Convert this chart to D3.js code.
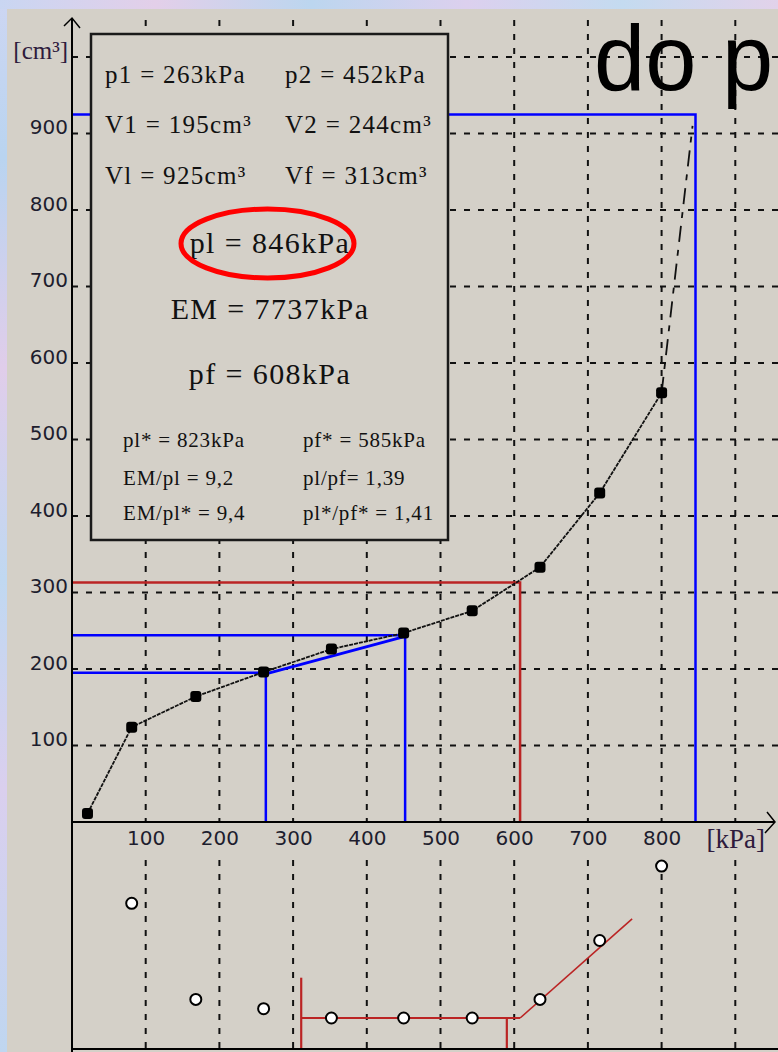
<!DOCTYPE html>
<html>
<head>
<meta charset="utf-8">
<script src="https://cdn.jsdelivr.net/npm/d3@7"></script>
<style>
  html, body { margin: 0; padding: 0; background: #d4d0c8; }
  svg { display: block; }
</style>
</head>
<body>
<svg id="chart" width="778" height="1052"></svg>
<script>
// Pressuremeter test: injected volume against applied pressure
const pressure = [21, 81, 168, 260, 352, 450, 543, 635, 716, 800];     // kPa
const volume   = [11, 124, 164, 196, 226, 247, 276, 333, 430, 561];    // cm³

// extrapolation of the curve towards the limit pressure
const extrapPressure = [800, 842];
const extrapVolume   = [561, 910];

// creep curve (lower panel), one value per pressure step after the first
const creepPressure = [81, 168, 260, 352, 450, 543, 635, 716, 800];
const creepValue    = [47, 16, 13, 10, 10, 10, 16, 35, 59];

// characteristic points
const p1 = 263, V1 = 195;
const p2 = 452, V2 = 244;
const pl = 846, Vl = 925;
const pf = 608, Vf = 313;

// creep fit lines: start of the plateau, plateau level, pf* step, post-creep line
const creepStartP = 311, creepStartTop = 23;
const creepPlateau = 10;
const creepStepP = 590;
const creepLineEnd = [760, 42];

// tick values and labels
const xTickValues = [100, 200, 300, 400, 500, 600, 700, 800, 900];
const xTickLabels = ["100", "200", "300", "400", "500", "600", "700", "800", "[kPa]"];
const yTickValues = [100, 200, 300, 400, 500, 600, 700, 800, 900, 1000];
const yTickLabels = ["100", "200", "300", "400", "500", "600", "700", "800", "900", "[cm³]"];

// result box texts
const resultPairs = [
  ["p1 = 263kPa", "p2 = 452kPa"],
  ["V1 = 195cm³", "V2 = 244cm³"],
  ["Vl = 925cm³", "Vf = 313cm³"]
];
const resultMain = ["pl = 846kPa", "EM = 7737kPa", "pf = 608kPa"];
const resultRatios = [
  ["pl* = 823kPa", "pf* = 585kPa"],
  ["EM/pl = 9,2", "pl/pf= 1,39"],
  ["EM/pl* = 9,4", "pl*/pf* = 1,41"]
];
const caption = "do p";

// ---------------------------------------------------------------
const W = 778, H = 1052;
const svg = d3.select("#chart");

const x = d3.scaleLinear().domain([0, 900]).range([72, 735.3]);
const y = d3.scaleLinear().domain([0, 1000]).range([822, 57]);
const yc = d3.scaleLinear().domain([0, 60]).range([1049, 863]);

const INK = "#111";
const BLUE = "#0000ff";
const RED = "#bb2424";
const PANEL = "#d4d0c8";

// pastel frame behind the panel
const defs = svg.append("defs");
const gTop = defs.append("linearGradient").attr("id", "frameTop");
[["0%", "#c9d6f2"], ["20%", "#e3cfe9"], ["40%", "#bcd6ef"], ["60%", "#dcd0ee"], ["80%", "#c4dbf0"], ["100%", "#e2d2ea"]]
  .forEach(([o, c]) => gTop.append("stop").attr("offset", o).attr("stop-color", c));
const gLeft = defs.append("linearGradient").attr("id", "frameLeft").attr("x1", 0).attr("y1", 0).attr("x2", 0).attr("y2", 1);
[["0%", "#cdd6f2"], ["15%", "#b9d4f0"], ["35%", "#e0cdea"], ["55%", "#c0d8f1"], ["75%", "#dacfee"], ["100%", "#bfd6f0"]]
  .forEach(([o, c]) => gLeft.append("stop").attr("offset", o).attr("stop-color", c));

svg.append("rect").attr("width", W).attr("height", H).attr("fill", "url(#frameLeft)");
svg.append("rect").attr("width", W).attr("height", 9).attr("fill", "url(#frameTop)");
svg.append("rect").attr("x", 7).attr("y", 9).attr("width", W - 7).attr("height", H - 9).attr("fill", PANEL);

// dashed grid
const grid = svg.append("g").attr("stroke", INK).attr("stroke-width", 2).attr("stroke-dasharray", "6,8");
grid.selectAll("line.v").data(xTickValues).join("line")
  .attr("x1", d => x(d)).attr("x2", d => x(d)).attr("y1", 20).attr("y2", y(0));
grid.selectAll("line.vl").data(xTickValues).join("line")
  .attr("x1", d => x(d)).attr("x2", d => x(d)).attr("y1", 860).attr("y2", yc(0));
grid.selectAll("line.h").data(yTickValues).join("line")
  .attr("x1", x(0)).attr("x2", W).attr("y1", d => y(d)).attr("y2", d => y(d));

// construction lines for the characteristic points
const cons = svg.append("g").attr("fill", "none").attr("stroke-width", 2.5);
const step = (p, v) => `M${x(0)},${y(v)}H${x(p)}V${y(0)}`;
cons.append("path").attr("d", step(p1, V1)).attr("stroke", BLUE);
cons.append("path").attr("d", step(p2, V2)).attr("stroke", BLUE);
cons.append("path").attr("d", step(pl, Vl)).attr("stroke", BLUE);
cons.append("path").attr("d", step(pf, Vf)).attr("stroke", RED);
cons.append("line").attr("stroke", BLUE).attr("stroke-width", 3)
  .attr("x1", x(p1)).attr("y1", y(V1) + 1).attr("x2", x(p2)).attr("y2", y(V2) + 1);

// pressure-volume curve
const line = d3.line().x(d => x(d[0])).y(d => y(d[1]));
svg.append("path").datum(d3.zip(pressure, volume))
  .attr("d", line).attr("fill", "none").attr("stroke", INK)
  .attr("stroke-width", 1.8).attr("stroke-dasharray", "4,1");
svg.append("path").datum(d3.zip(extrapPressure, extrapVolume))
  .attr("d", line).attr("fill", "none").attr("stroke", INK)
  .attr("stroke-width", 1.8).attr("stroke-dasharray", "16,8,6,8");
svg.selectAll("rect.pt").data(d3.zip(pressure, volume)).join("rect")
  .attr("x", d => x(d[0]) - 5.5).attr("y", d => y(d[1]) - 5.5)
  .attr("width", 11).attr("height", 11).attr("rx", 3).attr("fill", "#000");

// creep panel: fitted lines
const cl = svg.append("g").attr("stroke", RED).attr("stroke-width", 2.2).attr("fill", "none");
cl.append("line").attr("x1", x(creepStartP)).attr("x2", x(creepStartP)).attr("y1", yc(creepStartTop)).attr("y2", yc(0));
cl.append("line").attr("x1", x(creepStartP)).attr("x2", x(pf)).attr("y1", yc(creepPlateau)).attr("y2", yc(creepPlateau));
cl.append("line").attr("x1", x(creepStepP)).attr("x2", x(creepStepP)).attr("y1", yc(creepPlateau)).attr("y2", yc(0));
cl.append("line").attr("stroke-width", 1.6).attr("x1", x(pf)).attr("y1", yc(creepPlateau))
  .attr("x2", x(creepLineEnd[0])).attr("y2", yc(creepLineEnd[1]));

// creep panel: open points
svg.selectAll("circle.creep").data(d3.zip(creepPressure, creepValue)).join("circle")
  .attr("cx", d => x(d[0])).attr("cy", d => yc(d[1])).attr("r", 5.5)
  .attr("fill", "#fff").attr("stroke", "#000").attr("stroke-width", 2);

// axes
const axes = svg.append("g").attr("stroke", "#000").attr("stroke-width", 2).attr("fill", "none");
axes.append("line").attr("x1", x(0)).attr("x2", x(0)).attr("y1", 18).attr("y2", H);
axes.append("path").attr("stroke-width", 1.5).attr("d", `M64,26L${x(0)},18L80,28`);
axes.append("line").attr("x1", x(0)).attr("x2", 775).attr("y1", y(0)).attr("y2", y(0));
axes.append("path").attr("stroke-width", 1.5).attr("d", `M767,812L775,${y(0)}L765,833`);
axes.append("line").attr("x1", x(0)).attr("x2", W).attr("y1", yc(0)).attr("y2", yc(0));

const xAxis = svg.append("g").attr("transform", `translate(0,${y(0)})`)
  .call(d3.axisBottom(x).tickValues(xTickValues).tickSize(0).tickPadding(9)
    .tickFormat((d, i) => xTickLabels[i]));
xAxis.select(".domain").remove();
xAxis.selectAll("text").attr("font-family", "DejaVu Sans").attr("font-size", 20).attr("fill", "#1d1d2e");
xAxis.selectAll("text").filter((d, i) => i === xTickLabels.length - 1)
  .attr("font-family", "Liberation Serif").attr("font-size", 27).attr("fill", "#2e1b3d")
  .attr("dy", "0.62em");

const yAxis = svg.append("g").attr("transform", `translate(${x(0)},0)`)
  .call(d3.axisLeft(y).tickValues(yTickValues).tickSize(0).tickPadding(4)
    .tickFormat((d, i) => yTickLabels[i]));
yAxis.select(".domain").remove();
yAxis.selectAll("text").attr("dy", 0).attr("font-family", "DejaVu Sans").attr("font-size", 20).attr("fill", "#1d1d2e");
yAxis.selectAll("text").filter((d, i) => i === yTickLabels.length - 1)
  .attr("font-family", "Liberation Serif").attr("font-size", 25).attr("fill", "#2e1b3d").attr("dy", 1);

// result box
const box = svg.append("g");
box.append("rect").attr("x", 91).attr("y", 34).attr("width", 357).attr("height", 506)
  .attr("fill", PANEL).attr("stroke", "#1a1a1a").attr("stroke-width", 2.5);

const serif = "Liberation Serif";
const pairRows = [83, 133, 184];
resultPairs.forEach((pair, i) => {
  pair.forEach((t, j) => {
    box.append("text").attr("x", j ? 285 : 105).attr("y", pairRows[i])
      .attr("font-family", serif).attr("font-size", 25).attr("letter-spacing", 1.3)
      .attr("fill", "#111").text(t);
  });
});
const mainRows = [253, 319, 384];
resultMain.forEach((t, i) => {
  box.append("text").attr("x", 270).attr("y", mainRows[i]).attr("text-anchor", "middle")
    .attr("font-family", serif).attr("font-size", 30).attr("letter-spacing", 1.4)
    .attr("fill", "#111").text(t);
});
const ratioRows = [447, 485, 520];
resultRatios.forEach((pair, i) => {
  pair.forEach((t, j) => {
    box.append("text").attr("x", j ? 303 : 123).attr("y", ratioRows[i])
      .attr("font-family", serif).attr("font-size", 21).attr("letter-spacing", 0.8)
      .attr("fill", "#111").text(t);
  });
});

// highlight round the limit pressure
box.append("ellipse").attr("cx", 267.5).attr("cy", 243.5).attr("rx", 86.5).attr("ry", 34.5)
  .attr("fill", "none").attr("stroke", "#ff0000").attr("stroke-width", 5);

// caption
svg.append("text").attr("x", 594).attr("y", 90)
  .attr("font-family", "Liberation Sans").attr("font-size", 92).attr("fill", "#000")
  .text(caption);
</script>
</body>
</html>
